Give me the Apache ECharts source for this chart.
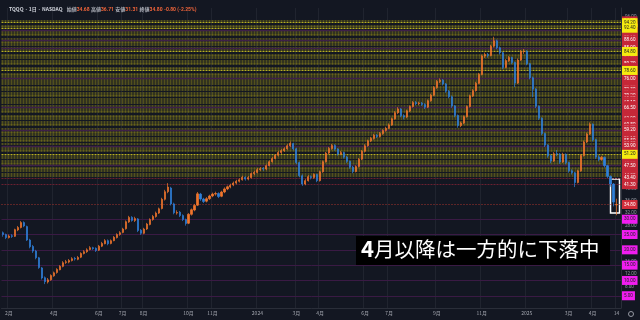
<!DOCTYPE html>
<html><head><meta charset="utf-8">
<script src="https://cdn.jsdelivr.net/npm/echarts@6/dist/echarts.min.js"></script>
<style>html,body{margin:0;padding:0;background:#131722;}#c{width:640px;height:320px;}</style>
</head><body><div id="c"></div>
<script>
// candles: [open, close, low, high]
const candles = [
[25.6,25.0,24.3,26.0],[25.0,24.0,23.5,25.3],[24.0,24.5,23.7,25.0],[24.6,24.4,23.9,25.1],[24.4,26.6,24.2,26.9],
[26.5,27.3,26.1,27.8],[27.3,28.9,27.0,29.4],[28.9,27.8,27.4,29.3],[27.6,23.2,22.9,27.9],[23.2,21.0,20.5,23.6],
[21.1,19.6,19.0,21.6],[19.6,17.4,16.9,20.0],[17.4,14.2,13.8,17.7],[14.1,10.8,10.3,14.4],[10.9,9.6,8.8,11.3],
[9.5,10.2,9.0,10.8],[10.2,11.6,9.9,12.0],[11.5,12.5,11.2,12.9],[12.6,13.6,12.2,14.0],[13.5,14.6,13.3,15.0],
[14.6,15.8,14.3,16.3],[15.9,16.1,15.4,16.7],[16.0,16.5,15.6,17.0],[16.5,17.1,16.2,17.6],[17.2,17.0,16.5,17.7],
[16.9,17.5,16.6,18.0],[17.6,18.8,17.3,19.2],[18.8,19.4,18.5,19.9],[19.4,20.0,19.0,20.5],[20.1,20.7,19.8,21.2],
[20.7,20.4,20.0,21.0],[20.5,19.8,19.3,20.8],[19.9,21.2,19.6,21.6],[21.2,22.1,20.9,22.6],[22.0,23.0,21.8,23.5],
[23.0,22.0,21.5,23.4],[22.1,23.0,21.8,23.4],[23.0,24.1,22.8,24.5],[24.0,25.0,23.7,25.4],[25.0,25.6,24.6,26.1],
[25.7,26.8,25.4,27.2],[26.9,29.2,26.6,29.6],[29.1,30.6,28.8,31.1],[30.6,29.6,29.2,31.0],[29.6,30.2,29.1,30.8],
[30.1,26.3,25.8,30.4],[26.4,25.4,24.9,26.8],[25.4,26.8,25.1,27.2],[26.8,28.4,26.5,28.8],[28.3,29.9,28.0,30.3],
[29.9,30.9,29.5,31.4],[30.9,32.0,30.5,32.5],[32.0,33.4,31.7,33.8],[33.5,36.5,33.2,37.0],[36.5,39.0,36.1,39.6],
[39.0,40.5,38.5,41.8],[40.2,35.0,34.5,40.6],[35.0,32.1,31.6,35.4],[32.0,32.2,31.5,32.9],[32.3,31.2,30.7,32.7],
[31.2,29.9,29.4,31.6],[29.9,28.6,27.9,30.2],[28.7,31.6,28.4,32.0],[31.6,33.1,31.2,33.5],[33.0,34.5,32.6,35.0],
[34.6,38.3,34.3,38.9],[38.2,36.6,36.0,38.6],[36.6,35.8,35.3,37.0],[35.9,36.7,35.5,37.2],[36.7,37.6,36.3,38.0],
[37.6,38.2,37.2,38.7],[38.2,38.4,37.7,39.0],[38.4,37.4,36.9,38.8],[37.5,38.9,37.2,39.3],[38.9,39.9,38.5,40.4],
[39.9,40.6,39.5,41.0],[40.5,41.1,40.1,41.6],[41.2,41.8,40.8,42.3],[41.8,42.4,41.4,42.9],[42.4,42.9,42.0,43.4],
[42.9,43.7,42.6,44.2],[43.7,43.1,42.6,44.0],[43.1,43.6,42.7,44.1],[43.6,44.9,43.3,45.3],[44.9,45.3,44.4,45.8],
[45.3,46.2,45.0,46.7],[46.2,46.5,45.8,47.0],[46.6,46.4,45.8,47.0],[46.4,47.5,46.0,47.9],[47.5,48.8,47.2,49.2],
[48.8,49.8,48.5,50.3],[49.8,50.9,49.5,51.3],[50.9,51.8,50.5,52.3],[51.8,52.4,51.3,52.9],[52.4,53.0,52.0,53.5],
[53.0,54.0,52.7,54.5],[54.0,54.8,53.6,55.4],[54.7,53.0,52.5,55.0],[53.0,48.5,48.0,53.3],[48.5,44.2,43.7,48.8],
[44.2,41.5,40.9,44.6],[41.5,42.6,41.1,43.1],[42.6,43.9,42.3,44.4],[43.9,43.6,43.0,44.3],[43.6,44.6,43.2,45.0],
[44.6,42.6,42.1,44.9],[42.6,45.5,42.3,45.9],[45.5,48.8,45.2,49.2],[48.8,51.6,48.5,52.0],[51.6,53.1,51.2,53.6],
[53.1,54.1,52.7,54.6],[54.1,52.9,52.4,54.5],[52.9,51.3,50.8,53.2],[51.3,51.8,50.9,52.3],[51.8,50.3,49.8,52.1],
[50.3,48.9,48.4,50.7],[48.9,47.0,46.5,49.2],[47.0,45.6,45.0,47.4],[45.6,47.2,45.3,47.6],[47.2,49.6,46.9,50.0],
[49.6,52.2,49.3,52.6],[52.2,54.0,51.8,54.5],[54.0,55.6,53.7,56.0],[55.6,56.4,55.2,56.9],[56.4,57.4,56.0,57.9],
[57.4,57.0,56.5,57.8],[57.0,58.0,56.7,58.5],[58.0,59.0,57.6,59.4],[59.0,59.7,58.6,60.2],[59.7,60.8,59.4,61.3],
[60.8,62.8,60.5,63.2],[62.8,64.8,62.5,65.3],[64.8,66.0,64.4,66.6],[66.0,63.8,63.3,66.3],[63.8,63.4,62.6,64.3],
[63.4,65.4,63.0,65.8],[65.4,66.8,65.0,67.2],[66.8,68.1,66.5,68.6],[68.1,67.7,67.2,68.6],[67.7,67.9,67.2,68.4],
[67.9,67.5,67.0,68.3],[67.5,66.6,66.0,67.9],[66.6,68.7,66.3,69.1],[68.7,70.5,68.4,71.0],[70.5,73.0,70.2,73.5],
[73.0,75.0,72.6,75.5],[75.0,75.4,74.5,76.0],[75.4,74.2,73.7,75.8],[74.2,71.8,71.3,74.5],[71.8,70.0,69.5,72.2],
[70.0,67.0,66.4,70.4],[67.0,63.9,63.3,67.3],[63.9,60.6,59.9,64.2],[60.6,61.4,60.1,61.9],[61.4,63.5,61.1,63.9],
[63.5,66.8,63.2,67.2],[66.8,70.3,66.5,70.7],[70.3,72.0,69.9,72.5],[72.0,74.4,71.7,74.9],[74.4,77.3,74.1,77.8],
[77.3,83.3,77.0,83.8],[83.3,83.8,82.7,84.4],[83.8,83.5,82.8,84.3],[83.5,86.5,83.2,87.0],[86.5,88.3,86.1,89.6],
[88.3,86.0,85.5,88.7],[86.0,84.4,83.8,86.4],[84.4,79.6,79.0,84.7],[79.6,81.8,79.3,82.3],[81.8,82.8,81.4,83.3],
[82.8,81.2,80.6,83.1],[81.2,74.5,73.2,81.5],[74.5,82.0,74.2,82.5],[82.0,84.8,81.7,85.3],[84.8,84.9,84.0,85.6],
[84.9,80.8,80.3,85.2],[80.8,76.2,75.7,81.1],[76.2,72.5,69.9,76.6],[72.5,66.9,66.3,72.8],[66.9,63.0,62.4,67.2],
[63.0,58.0,57.4,63.3],[58.0,54.2,53.6,58.3],[54.2,50.7,50.1,54.5],[50.7,49.0,48.3,51.1],[49.0,51.4,48.7,51.9],
[51.4,51.3,50.6,52.6],[51.3,48.7,48.1,51.6],[48.7,51.2,48.4,51.7],[51.2,48.5,47.9,51.5],[48.5,45.8,45.2,48.8],
[45.8,45.2,44.6,46.3],[45.2,42.0,40.5,45.5],[42.0,45.8,41.7,46.2],[45.8,50.8,45.5,51.2],[50.8,55.2,50.5,55.7],
[55.2,57.8,54.9,58.3],[57.8,61.0,57.5,61.6],[61.0,56.0,55.4,61.3],[56.0,50.3,49.7,56.3],[50.3,49.5,48.9,50.9],
[49.5,50.2,49.1,50.7],[50.2,47.5,46.9,50.5],[47.5,44.0,43.4,47.8],[44.0,41.5,40.6,44.3],[41.5,35.6,34.2,41.8],
[34.68,34.80,31.31,36.71]
];
const slotCount = 207; // one empty slot of right margin
const tickIdx  = [2,17,32,40,47,62,70,85,98,106,121,129,145,160,175,189,197,205];
const tickText = ['2月','4月','6月','7月','8月','10月','11月','2024','3月','4月','6月','7月','9月','11月','2025','3月','4月','14'];
const axisTicks = [4,8,12,16,20,24,28,32,36,40,44,48,52,56,60,64,68,72,76,80,84,88,92,96];
const yellowLevels = [94.2, 92.4, 84.8, 78.6, 51.2];
const bandLevels = [94.8,93.3,92.8,91.3,90.7,90.2,89.1,88.0,87.5,87.0,86.0,85.3,83.8,83.3,82.8,81.8,81.2,80.7,79.6,79.1,77.6,77.1,76.5,75.5,74.9,74.4,73.4,72.8,72.3,71.3,70.7,70.2,69.2,68.6,68.1,67.1,66.0,65.5,65.0,63.9,63.4,62.9,61.8,61.3,60.8,59.7,58.7,58.2,57.6,56.6,56.1,55.5,54.5,53.4,52.8,52.3,50.6,50.1,49.0,48.5,48.0,46.9,46.4,45.9,44.8,44.3];
const bandPurpleLevels = [91.8, 88.6, 85.9, 76.0, 66.5, 59.2, 53.9, 47.5];
const redDotLevels = [43.4, 41.3];
const magentaLevels = [30, 25, 20, 15, 10, 5];
const lastPrice = 34.80;
const boxRange = {x0: 203, x1: 206, y0: 43.1, y1: 32.0};
const header = {sym: 'TQQQ · 1日 · NASDAQ', o: '34.68', h: '36.71', l: '31.31', c: '34.80', chg: '-0.80 (-2.25%)'};
const caption = ['4', '月以降は一方的に下落中'];

const cats = [];
const labelMap = {};
for (let i = 0; i < slotCount; i++) cats.push('d' + i);
tickIdx.forEach((ix, k) => { labelMap['d' + ix] = tickText[k]; });

const NUMF = 'Roboto, "Liberation Sans", sans-serif';
function lvl(v, lineColor, lineType, bg, fg, width) {
  return {
    yAxis: v,
    lineStyle: {color: lineColor, type: lineType, width: width || 1},
    label: {show: true, position: 'end', distance: 1, formatter: v.toFixed(2), fontSize: 4.6, fontFamily: NUMF,
            color: fg, backgroundColor: bg, padding: [2, 2, 2, 2]}
  };
}
const ml = [];
bandLevels.forEach(v => ml.push(lvl(v, 'rgba(112,108,28,0.9)', [2, 1], '#c62838', '#fff', 1.6)));
bandPurpleLevels.forEach(v => ml.push(lvl(v, '#3e2048', 'solid', '#c62838', '#fff', 1.4)));
redDotLevels.forEach(v => ml.push(lvl(v, '#6a2030', [2, 1], '#c62838', '#fff')));
magentaLevels.forEach(v => ml.push(lvl(v, '#3a1a44', 'solid', '#f01df0', '#222')));
yellowLevels.forEach(v => ml.push(lvl(v, '#b8b020', [2, 1], '#f5eb10', '#222')));
ml.push(lvl(lastPrice, '#a8342c', [1, 2], '#d12d3a', '#fff'));

const chart = echarts.init(document.getElementById('c'), null, {renderer: 'canvas'});
chart.setOption({
  backgroundColor: '#131722',
  animation: false,
  grid: {left: 0, top: 8, width: 621, height: 300},
  xAxis: {
    type: 'category', data: cats, boundaryGap: true,
    axisLine: {lineStyle: {color: '#2a2e39'}}, axisTick: {show: false},
    axisLabel: {interval: 0, margin: 3, fontSize: 5, color: '#a3a6af', fontFamily: '"Noto Sans CJK JP", sans-serif',
                formatter: v => labelMap[v] || ''},
    splitLine: {show: true, interval: (i, v) => !!labelMap[v], lineStyle: {color: '#20242f', width: 1}}
  },
  yAxis: {
    type: 'value', position: 'right', min: 1, max: 99, scale: true,
    axisLine: {show: true, lineStyle: {color: '#2a2e39'}}, axisTick: {show: false},
    splitLine: {show: false},
    axisLabel: {customValues: axisTicks, fontSize: 4.6, color: '#9598a1', margin: 4, fontFamily: NUMF,
                formatter: v => v.toFixed(2)}
  },
  title: {
    left: 4, top: 2,
    text: '{s|' + header.sym + '}   {k|始値}{v|' + header.o + '} {k|高値}{v|' + header.h + '} {k|安値}{v|' + header.l +
          '} {k|終値}{v|' + header.c + '} {v|' + header.chg + '}',
    textStyle: {fontSize: 5, rich: {
      s: {fontSize: 5, color: '#d1d4dc', fontFamily: '"Noto Sans CJK JP", sans-serif'},
      k: {fontSize: 5, color: '#b2b5be', fontFamily: '"Noto Sans CJK JP", sans-serif'},
      v: {fontSize: 5, color: '#f0643a', fontFamily: NUMF}
    }}
  },
  series: [{
    type: 'candlestick', data: candles, barWidth: 1.6, z: 5,
    itemStyle: {color: '#f0752d', color0: '#2f80d8', borderColor: '#f0752d', borderColor0: '#2f80d8', borderWidth: 0.7},
    markLine: {silent: true, symbol: 'none', animation: false, z: 1, data: ml},
    markArea: {silent: true, itemStyle: {color: 'rgba(0,0,0,0)', borderColor: '#ffffff', borderWidth: 1.5},
      data: [[{xAxis: 'd' + boxRange.x0, yAxis: boxRange.y0}, {xAxis: 'd' + boxRange.x1, yAxis: boxRange.y1}]]}
  }],
  graphic: [
    {type: 'rect', left: 356, top: 236, shape: {width: 254, height: 29}, style: {fill: '#000'}, z: 100},
    {type: 'text', left: 361, top: 238, z: 101, style: {
      text: '{a|' + caption[0] + '}{b|' + caption[1] + '}',
      rich: {a: {fontSize: 22, fontWeight: 'bold', fill: '#fff', fontFamily: '"Noto Sans CJK JP", sans-serif'},
             b: {fontSize: 20.5, fill: '#fff', fontFamily: '"Noto Sans CJK JP", sans-serif'}}}},
    {type: 'circle', shape: {cx: 631, cy: 314, r: 2.5}, style: {fill: 'none', stroke: '#9598a1', lineWidth: 1}, z: 100}
  ]
});
</script></body></html>
